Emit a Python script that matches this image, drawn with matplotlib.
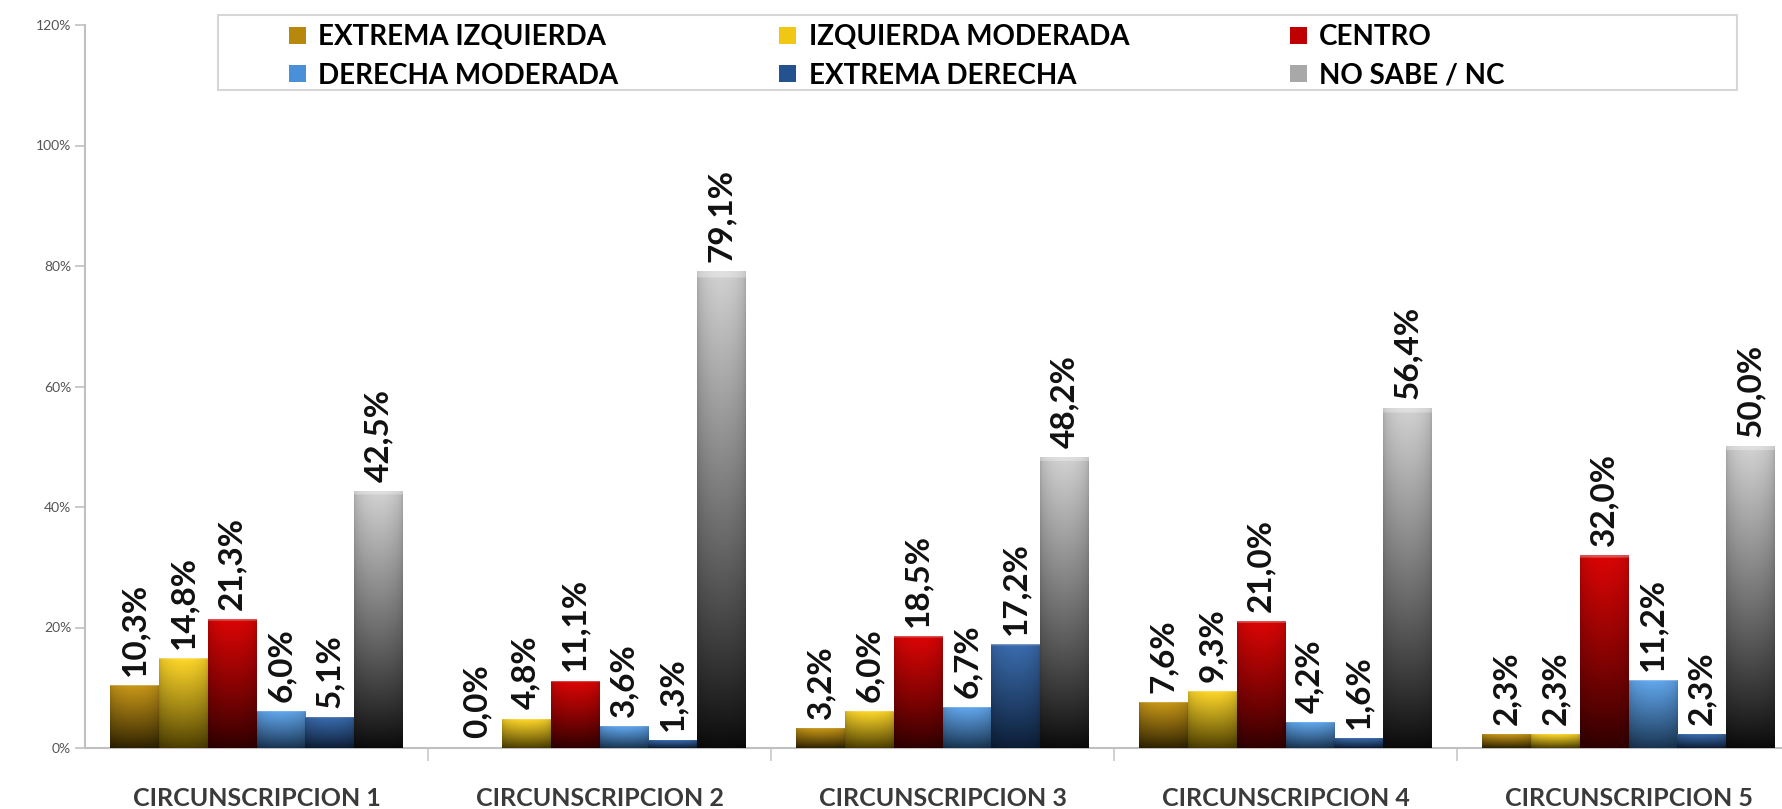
import numpy as np
import matplotlib
matplotlib.use("Agg")
import matplotlib.pyplot as plt
from matplotlib.patches import Patch, Rectangle
from matplotlib.colors import to_rgb
from matplotlib.ticker import FuncFormatter, FixedLocator

plt.rcParams['font.family'] = ['Lato', 'DejaVu Sans']

# data
circunscripciones = ['CIRCUNSCRIPCION 1', 'CIRCUNSCRIPCION 2', 'CIRCUNSCRIPCION 3',
                     'CIRCUNSCRIPCION 4', 'CIRCUNSCRIPCION 5']
series_names = ['EXTREMA IZQUIERDA', 'IZQUIERDA MODERADA', 'CENTRO',
                'DERECHA MODERADA', 'EXTREMA DERECHA', 'NO SABE / NC']
extrema_izquierda = [10.3, 0.0, 3.2, 7.6, 2.3]
izquierda_moderada = [14.8, 4.8, 6.0, 9.3, 2.3]
centro = [21.3, 11.1, 18.5, 21.0, 32.0]
derecha_moderada = [6.0, 3.6, 6.7, 4.2, 11.2]
extrema_derecha = [5.1, 1.3, 17.2, 1.6, 2.3]
no_sabe = [42.5, 79.1, 48.2, 56.4, 50.0]
y_ticks = [0, 20, 40, 60, 80, 100, 120]

series = [extrema_izquierda, izquierda_moderada, centro,
          derecha_moderada, extrema_derecha, no_sabe]
# gradient colours, top -> bottom
top_colors = ['#c99818', '#ffd82a', '#dc0505', '#62a8ee', '#3a6cae', '#d2d2d2']
bottom_colors = ['#2c2000', '#4a3c00', '#2e0000', '#183350', '#0c1c34', '#0a0a0a']
legend_colors = ['#b8880c', '#f0c814', '#c00000', '#4a90d8', '#24528e', '#a8a8a8']


def bar_gradient(top, bottom, n=300, m=40):
    t = np.linspace(0, 1, n)[:, None, None] ** 0.9
    top = np.array(to_rgb(top))
    bottom = np.array(to_rgb(bottom))
    img = bottom + (top - bottom) * t
    u = np.linspace(0, 1, m)
    shade = 0.82 + 0.18 * np.sin(np.pi * u) ** 0.5
    img = img * shade[None, :, None]
    rim = np.linspace(0, 1, n) > 0.988
    img[rim] = img[rim] * 0.7 + 0.3
    return np.clip(img, 0, 1)


fig = plt.figure(figsize=(17.82, 8.09), dpi=100)
ax = fig.add_axes([85 / 1782, 61 / 809, 1715 / 1782, 723 / 809])

x = np.arange(len(circunscripciones))
bw = 0.1425
for i, vals in enumerate(series):
    bars = ax.bar(x + (i - 2.5) * bw, vals, width=bw, color=legend_colors[i],
                  linewidth=0, zorder=2)
    grad = bar_gradient(top_colors[i], bottom_colors[i])
    for b, v in zip(bars, vals):
        x0, w, h = b.get_x(), b.get_width(), b.get_height()
        if h > 0:
            ax.imshow(grad, extent=(x0, x0 + w, 0, h), aspect='auto',
                      origin='lower', interpolation='bilinear', zorder=3)
        ax.text(x0 + w / 2, h + 1.6, f"{v:.1f}%".replace('.', ','),
                rotation=90, ha='center', va='bottom', fontsize=24,
                fontweight='bold', color='#111111', zorder=4)

ax.set_xlim(-0.5, len(circunscripciones) - 0.5)
ax.set_ylim(0, 120)

ax.set_yticks(y_ticks)
ax.yaxis.set_major_formatter(FuncFormatter(lambda v, p: f"{v:.0f}%"))
ax.tick_params(axis='y', length=7, width=1.2, color='#c0c0c0', labelsize=10,
               labelcolor='#555555', pad=3)

ax.set_xticks(x)
ax.set_xticklabels(circunscripciones, fontsize=18, fontweight='bold', color='#3a3a3a')
ax.tick_params(axis='x', which='major', length=0, pad=28)
ax.xaxis.set_minor_locator(FixedLocator(x[:-1] + 0.5))
ax.tick_params(axis='x', which='minor', length=9, width=1.2, color='#c8c8c8')

for s in ['top', 'right']:
    ax.spines[s].set_visible(False)
for s in ['left', 'bottom']:
    ax.spines[s].set_color('#c0c0c0')
    ax.spines[s].set_linewidth(1.5)

# legend frame and entries
fig.patches.append(Rectangle((218 / 1782, 1 - 90 / 809), (1737 - 218) / 1782, 75 / 809,
                             transform=fig.transFigure, facecolor='white',
                             edgecolor='#d6d6d6', linewidth=1.5, zorder=0))
handles = [Patch(facecolor=c, edgecolor='none') for c in legend_colors]
order = [0, 3, 1, 4, 2, 5]
fig.legend([handles[k] for k in order], [series_names[k] for k in order],
           loc='upper left', bbox_to_anchor=(289 / 1782, 1 - 24 / 809), ncol=3,
           frameon=False, borderpad=0, borderaxespad=0,
           handlelength=0.6, handleheight=0.55, handletextpad=0.45,
           columnspacing=5.8, labelspacing=0.45,
           prop={'weight': 'bold', 'size': 20})

fig.savefig('out.png', dpi=100)
